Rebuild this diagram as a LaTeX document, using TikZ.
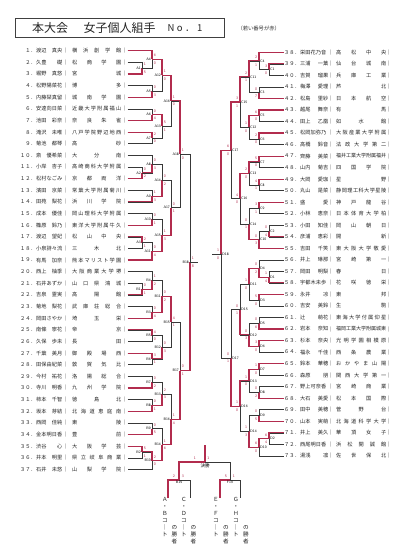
\documentclass[tikz,border=0pt]{standalone}
\usepackage{fontspec}
\usepackage{graphicx}
\newfontfamily\jp{Noto Sans CJK JP}
\usetikzlibrary{calc}
\definecolor{wred}{RGB}{178,44,78}
\newsavebox\fitbx
\newcommand\spreadfirst[1]{#1\spreadrest}
\newcommand\spreadrest[1]{\ifx\relax#1\else\hfil#1\expandafter\spreadrest\fi}
\newcommand\fitspread[2]{\sbox\fitbx{#2}\ifdim\wd\fitbx>#1\relax\resizebox{#1}{!}{\usebox\fitbx}\else\makebox[#1][s]{\spreadfirst#2\relax}\fi}
\newcommand\fwd[1]{\ifcase#1\relax ０\or １\or ２\or ３\or ４\or ５\or ６\or ７\or ８\or ９\fi}
\newcommand\fwnum[1]{\ifnum#1>9 \fwd{\numexpr(#1-5)/10\relax}\fwd{\numexpr#1-10*((#1-5)/10)\relax}\else\fwd{#1}\fi}
\tikzset{
  ln/.style={draw=black!78, line width=0.5pt},
  win/.style={draw=wred, line width=1.1pt},
  lab/.style={font=\sffamily\fontsize{3.6}{4}\selectfont, inner sep=0.2pt},
  sc/.style={font=\sffamily\fontsize{3.8}{4}\selectfont, text=wred, inner sep=0pt},
  txt/.style={font=\jp\fontsize{5.2}{6}\selectfont, inner sep=0pt, text=black!85},
  vt/.style={font=\jp\fontsize{5.6}{7}\selectfont, align=center, inner sep=0pt, anchor=north, text=black!85},
}
\newcommand\Lp[3]{%
  \pgfmathsetmacro\yy{50.7+(#1-1)*11.63}%
  \node[txt,anchor=east] (ln#1) at (36,\yy) {\fwnum{#1}．};
  \node[txt,anchor=west] (lm#1) at (36,\yy) {\makebox[26pt][s]{#2}};
  \node[txt] (la#1) at (65.5,\yy) {｜};
  \node[txt,anchor=west] (ls#1) at (72,\yy) {\fitspread{49pt}{#3}};
  \node[txt] (lb#1) at (125,\yy) {｜};
  \coordinate (L#1) at (127.5,\yy);
}
\newcommand\Rp[3]{%
  \pgfmathsetmacro\yy{52.3+(#1-38)*11.53}%
  \node[txt,anchor=east] (rn#1) at (300,\yy) {\fwnum{#1}．};
  \node[txt,anchor=west] (rm#1) at (300,\yy) {\makebox[28pt][s]{#2}};
  \node[txt] (ra#1) at (331,\yy) {｜};
  \node[txt,anchor=west] (rs#1) at (336,\yy) {\fitspread{50pt}{#3}};
  \node[txt] (rb#1) at (389,\yy) {｜};
  \coordinate (R#1) at (283.5,\yy);
}
% match: name, level, upper, lower, winner(1/2), upper score, lower score
\newcommand\LM[7]{%
  \coordinate (#1) at ($(#3 -| #2)!0.5!(#4 -| #2)$);
  \draw[ln] (#3) -- (#3 -| #2) -- (#4 -| #2) -- (#4);
  \ifnum#5=1\relax \draw[win] (#3) -- (#3 -| #2) -- (#1);\else \draw[win] (#4) -- (#4 -| #2) -- (#1);\fi
  \node[lab,anchor=east] (#1n) at ([xshift=-0.7pt]#1) {#1};
  \node[sc] (#1u) at ([xshift=2.8pt,yshift=3.8pt]#1) {#6};
  \node[sc] (#1d) at ([xshift=2.8pt,yshift=-3.8pt]#1) {#7};
}
\newcommand\RM[7]{%
  \coordinate (#1) at ($(#3 -| #2)!0.5!(#4 -| #2)$);
  \draw[ln] (#3) -- (#3 -| #2) -- (#4 -| #2) -- (#4);
  \ifnum#5=1\relax \draw[win] (#3) -- (#3 -| #2) -- (#1);\else \draw[win] (#4) -- (#4 -| #2) -- (#1);\fi
  \node[lab,anchor=west] (#1n) at ([xshift=0.7pt]#1) {#1};
  \node[sc] (#1u) at ([xshift=-2.8pt,yshift=3.8pt]#1) {#6};
  \node[sc] (#1d) at ([xshift=-2.8pt,yshift=-3.8pt]#1) {#7};
}
\begin{document}
\begin{tikzpicture}[x=1pt,y=-1pt]
\useasboundingbox (0,0) rectangle (404,554);
\fill[white] (0,0) rectangle (404,554);
% title
\node[draw=black!75, line width=0.7pt, minimum width=209pt, minimum height=19pt, anchor=north west, inner sep=0pt] (tbox) at (15,18) {};
\node[font=\jp\fontsize{12}{13}\selectfont, text=black!85] (t1) at (50,27.8) {本大会};
\node[font=\jp\fontsize{12}{13}\selectfont, text=black!85] (t2) at (119.5,27.8) {女子個人組手};
\node[font=\jp\fontsize{9.5}{10}\selectfont, text=black!85] (t3) at (185,28.5) {\makebox[35pt][s]{N\hfil o\hfil ．\hfil 1}};
\node[font=\jp\fontsize{5.3}{6}\selectfont, anchor=west, text=black!80] (t4) at (234,28) {（若い番号が赤）};
% levels
\coordinate (XL1) at (142,0); \coordinate (XL2) at (152,0); \coordinate (XL3) at (162,0);
\coordinate (XL4) at (171,0); \coordinate (XL5) at (180,0); \coordinate (XL6) at (190,0);
\coordinate (XR1) at (269,0); \coordinate (XR2) at (259,0); \coordinate (XR3) at (249,0);
\coordinate (XR4) at (240,0); \coordinate (XR5) at (231,0); \coordinate (XR6) at (221,0);
% left players
\Lp{1}{渡辺 真央}{横浜創学館}
\Lp{2}{久豊 礎}{松商学園}
\Lp{3}{堀野 真悠}{宮城}
\Lp{4}{松野陽菜花}{博多}
\Lp{5}{内藤栞真留}{城南学園}
\Lp{6}{安達向日菜}{近畿大学附属福山}
\Lp{7}{池田 彩奈}{奈良朱雀}
\Lp{8}{滝沢 未唯}{八戸学院野辺地西}
\Lp{9}{菊池 都琴}{高砂}
\Lp{10}{斎 優希菜}{大分南}
\Lp{11}{小岸 杏子}{高崎商科大学附属}
\Lp{12}{松村なごみ}{京都両洋}
\Lp{13}{濱田 京菜}{常葉大学附属菊川}
\Lp{14}{田苑 梨花}{浜川学院}
\Lp{15}{成本 優佳}{岡山理科大学附属}
\Lp{16}{篠原 鈴乃}{東洋大学附属牛久}
\Lp{17}{渡辺 望妃}{松山中央}
\Lp{18}{小泉詩々流}{三木北}
\Lp{19}{有馬 加奈}{熊本マリスト学園}
\Lp{20}{西上 柚季}{大阪商業大学堺}
\Lp{21}{石井あずか}{山口県鴻城}
\Lp{22}{吉泉 霊実}{高陽館}
\Lp{23}{菊地 梨花}{武庫荘総合}
\Lp{24}{岡田さやか}{埼玉栄}
\Lp{25}{南條 寧花}{帝京}
\Lp{26}{久保 歩未}{長田}
\Lp{27}{千葉 美月}{御殿場西}
\Lp{28}{田保由紀菜}{敦賀気比}
\Lp{29}{今村 祐花}{洛陽総合}
\Lp{30}{寺川 明香}{九州学院}
\Lp{31}{柿本 千智}{徳島北}
\Lp{32}{坂本 芽結}{北海道恵庭南}
\Lp{33}{西岡 佳純}{東陵}
\Lp{34}{金本明日香}{豊前}
\Lp{35}{渋谷 心}{大阪学芸}
\Lp{36}{井本 明里}{県立岐阜商業}
\Lp{37}{石井 未悠}{山梨学院}
% right players
\Rp{38}{栄田花乃音}{高松中央}
\Rp{39}{三浦 一葉}{仙台城南}
\Rp{40}{吉賀 瑠果}{兵庫工業}
\Rp{41}{梅澤 愛理}{芦北}
\Rp{42}{松島 里紗}{日本航空}
\Rp{43}{越尾 舞奈}{有馬}
\Rp{44}{田上 乙凰}{如水館}
\Rp{45}{松岡加弥乃}{大阪産業大学附属}
\Rp{46}{高橋 鈴音}{法政大学第二}
\Rp{47}{齊藤 美菜}{福井工業大学附属福井}
\Rp{48}{山内 菊吉}{四国学院}
\Rp{49}{大岡 愛珈}{星野}
\Rp{50}{丸山 是菜}{静岡理工科大学星陵}
\Rp{51}{盛 愛}{神戸龍谷}
\Rp{52}{小林 恵奈}{日本体育大学柏}
\Rp{53}{小田 知佳}{岡山朝日}
\Rp{54}{彦浦 恵彩}{開新}
\Rp{55}{吉田 千笑}{東大阪大学敬愛}
\Rp{56}{井上 琳那}{宮崎第一}
\Rp{57}{岡田 明梨}{春日}
\Rp{58}{宇都木未歩}{花咲徳栄}
\Rp{59}{永井 凉}{東邦}
\Rp{60}{吉安 美鈴}{生駒}
\Rp{61}{辻 萌花}{東海大学付属仰星}
\Rp{62}{岩本 奈知}{福岡工業大学附属城東}
\Rp{63}{杉本 奈央}{光明学園相模原}
\Rp{64}{福永 千佳}{西条農業}
\Rp{65}{鈴本 華穂}{おかやま山陽}
\Rp{66}{森原 朋}{関西大学第一}
\Rp{67}{野上可奈香}{宮崎商業}
\Rp{68}{大石 美愛}{松本国際}
\Rp{69}{田中 美穂}{菅野台}
\Rp{70}{山本 実萌}{北海道科学大学}
\Rp{71}{井上 美久}{華頂女子}
\Rp{72}{西尾明日香}{浜松開誠館}
\Rp{73}{湯浅 凛}{佐世保北}
% court A
\LM{A1}{XL1}{L2}{L3}{2}{1}{5}
\LM{A4}{XL2}{L1}{A1}{1}{6}{0}
\LM{A5}{XL2}{L4}{L5}{2}{0}{3}
\LM{A12}{XL3}{A4}{A5}{1}{1}{0}
\LM{A6}{XL2}{L6}{L7}{2}{0}{4}
\LM{A7}{XL2}{L8}{L9}{1}{2}{0}
\LM{A13}{XL3}{A6}{A7}{1}{5}{1}
\LM{A16}{XL4}{A12}{A13}{1}{1}{0}
\LM{A2}{XL1}{L11}{L12}{2}{0}{2}
\LM{A8}{XL2}{L10}{A2}{2}{0}{3}
\LM{A9}{XL2}{L13}{L14}{2}{1}{3}
\LM{A14}{XL3}{A8}{A9}{2}{0}{2}
\LM{A10}{XL2}{L15}{L16}{2}{0}{1}
\LM{A3}{XL1}{L17}{L18}{1}{2}{1}
\LM{A11}{XL2}{A3}{L19}{2}{0}{4}
\LM{A15}{XL3}{A10}{A11}{2}{1}{3}
\LM{A17}{XL4}{A14}{A15}{2}{0}{1}
\LM{A18}{XL5}{A16}{A17}{1}{1}{0}
% court B
\LM{B1}{XL1}{L21}{L22}{2}{0}{1}
\LM{B4}{XL2}{L20}{B1}{2}{1}{2}
\LM{B3}{XL2}{L23}{L24}{2}{0}{4}
\LM{B11}{XL3}{B4}{B3}{2}{0}{2}
\LM{B5}{XL2}{L25}{L26}{1}{4}{0}
\LM{B6}{XL2}{L27}{L28}{1}{3}{1}
\LM{B12}{XL3}{B5}{B6}{2}{0}{3}
\LM{B15}{XL4}{B11}{B12}{1}{4}{1}
\LM{B7}{XL2}{L29}{L30}{2}{0}{2}
\LM{B8}{XL2}{L31}{L32}{2}{0}{1}
\LM{B13}{XL3}{B7}{B8}{2}{2}{3}
\LM{B9}{XL2}{L33}{L34}{2}{0}{5}
\LM{B2}{XL1}{L35}{L36}{1}{5}{1}
\LM{B10}{XL2}{B2}{L37}{1}{2}{0}
\LM{B14}{XL3}{B9}{B10}{2}{1}{6}
\LM{B16}{XL4}{B13}{B14}{2}{1}{4}
\LM{B17}{XL5}{B15}{B16}{2}{0}{1}
\LM{B18}{XL6}{A18}{B17}{2}{1}{8}
\draw[ln] (B18) -- ++(8,0) coordinate (B18o);
% court C
\RM{C1}{XR1}{R39}{R40}{1}{3}{0}
\RM{C4}{XR2}{R38}{C1}{1}{2}{1}
\RM{C3}{XR2}{R41}{R42}{2}{0}{7}
\RM{C11}{XR3}{C4}{C3}{1}{2}{1}
\RM{C5}{XR2}{R43}{R44}{1}{6}{0}
\RM{C6}{XR2}{R45}{R46}{1}{2}{0}
\RM{C12}{XR3}{C5}{C6}{1}{1}{0}
\RM{C15}{XR4}{C11}{C12}{1}{3}{1}
\RM{C7}{XR2}{R47}{R48}{1}{5}{0}
\RM{C8}{XR2}{R49}{R50}{1}{4}{1}
\RM{C13}{XR3}{C7}{C8}{1}{2}{0}
\RM{C9}{XR2}{R51}{R52}{1}{3}{1}
\RM{C2}{XR1}{R53}{R54}{2}{0}{4}
\RM{C10}{XR2}{C2}{R55}{2}{0}{3}
\RM{C14}{XR3}{C9}{C10}{2}{0}{1}
\RM{C16}{XR4}{C13}{C14}{1}{4}{0}
\RM{C17}{XR5}{C15}{C16}{1}{6}{0}
% court D
\RM{D1}{XR1}{R57}{R58}{2}{1}{4}
\RM{D4}{XR2}{R56}{D1}{2}{0}{2}
\RM{D3}{XR2}{R59}{R60}{1}{5}{0}
\RM{D11}{XR3}{D4}{D3}{1}{1}{0}
\RM{D5}{XR2}{R61}{R62}{2}{0}{6}
\RM{D6}{XR2}{R63}{R64}{1}{3}{0}
\RM{D12}{XR3}{D5}{D6}{2}{0}{3}
\RM{D15}{XR4}{D11}{D12}{2}{0}{1}
\RM{D7}{XR2}{R65}{R66}{1}{1}{0}
\RM{D8}{XR2}{R67}{R68}{2}{0}{2}
\RM{D13}{XR3}{D7}{D8}{1}{1}{0}
\RM{D9}{XR2}{R69}{R70}{2}{0}{5}
\RM{D2}{XR1}{R71}{R72}{1}{6}{4}
\RM{D10}{XR2}{D2}{R73}{1}{6}{0}
\RM{D14}{XR3}{D9}{D10}{2}{1}{3}
\RM{D16}{XR4}{D13}{D14}{1}{1}{0}
\RM{D17}{XR5}{D15}{D16}{2}{0}{1}
\RM{D18}{XR6}{C17}{D17}{1}{1}{0}
\draw[ln] (D18) -- ++(-9,0) coordinate (D18o);
% bottom bracket
\coordinate (ab) at (168,498); \coordinate (cd) at (190,498);
\coordinate (ef) at (220,498); \coordinate (gh) at (240,498);
\coordinate (B19) at (179,480); \coordinate (F19) at (230,480);
\coordinate (fin) at (205,462); \coordinate (top) at (205,445);
\draw[ln] (ab) -- (ab |- B19) -- (cd |- B19) -- (cd);
\draw[win] (ab) -- (ab |- B19) -- (B19);
\draw[ln] (ef) -- (ef |- F19) -- (gh |- F19) -- (gh);
\draw[win] (ef) -- (ef |- F19) -- (F19);
\draw[ln] (B19) -- (B19 |- fin) -- (F19 |- fin) -- (F19);
\draw[win] (B19) -- (B19 |- fin) -- (fin);
\draw[win] (fin) -- (top);
\node[lab, anchor=north] (B19n) at ([yshift=-1pt]B19) {B19};
\node[lab, anchor=north] (F19n) at ([yshift=-1pt]F19) {F19};
\node[font=\jp\fontsize{4.5}{5}\selectfont, anchor=north, inner sep=0pt] (finn) at ([yshift=-1.2pt]fin) {決勝};
\node[sc] (B19u) at (174,476.5) {2};
\node[sc] (B19d) at (183,476.5) {3};
\node[sc] (F19u) at (226,476.5) {5};
\node[sc] (F19d) at (234,476.5) {1};
\node[sc] (finu) at (195,458.5) {1};
\node[sc] (find) at (208.5,458.5) {1};
\node[vt] (vab) at (165,497) {Ａ\\・\\Ｂ\\コ\\｜\\ト};
\node[vt] (vab2) at (174.5,525) {の\\勝\\者};
\node[vt] (vcd) at (184,497) {Ｃ\\・\\Ｄ\\コ\\｜\\ト};
\node[vt] (vcd2) at (193.5,525) {の\\勝\\者};
\node[vt] (vef) at (216,497) {Ｅ\\・\\Ｆ\\コ\\｜\\ト};
\node[vt] (vef2) at (226,525) {の\\勝\\者};
\node[vt] (vgh) at (236,497) {Ｇ\\・\\Ｈ\\コ\\｜\\ト};
\node[vt] (vgh2) at (246,525) {の\\勝\\者};
\end{tikzpicture}
\end{document}
